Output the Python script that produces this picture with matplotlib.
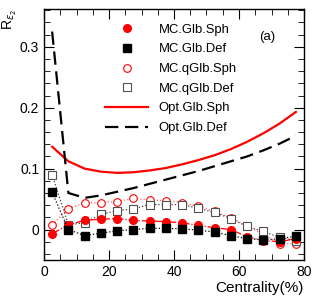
import matplotlib
matplotlib.use("Agg")
import matplotlib.pyplot as plt
from matplotlib.lines import Line2D
from matplotlib.ticker import MultipleLocator

cent = [2.5, 7.5, 12.5, 17.5, 22.5, 27.5, 32.5, 37.5, 42.5, 47.5, 52.5, 57.5, 62.5, 67.5, 72.5, 77.5]

mc_glb_sph = [-0.007, 0.008, 0.015, 0.017, 0.018, 0.015, 0.014, 0.013, 0.011, 0.007, 0.003, 0.0, -0.012, -0.018, -0.02, -0.015]
mc_glb_def = [0.061, 0.0, -0.010, -0.006, -0.002, 0.0, 0.002, 0.002, 0.001, -0.001, -0.004, -0.010, -0.015, -0.017, -0.015, -0.011]
mc_qglb_sph = [0.008, 0.034, 0.044, 0.044, 0.046, 0.051, 0.049, 0.047, 0.044, 0.038, 0.030, 0.019, 0.006, -0.008, -0.023, -0.023]
mc_qglb_def = [0.090, 0.008, 0.011, 0.025, 0.031, 0.034, 0.041, 0.041, 0.041, 0.035, 0.028, 0.018, 0.005, -0.003, -0.013, -0.018]
opt_glb_sph = [0.136, 0.112, 0.100, 0.095, 0.093, 0.094, 0.097, 0.101, 0.107, 0.114, 0.122, 0.132, 0.144, 0.158, 0.174, 0.193]
opt_glb_def = [0.325, 0.060, 0.052, 0.056, 0.062, 0.068, 0.075, 0.082, 0.089, 0.096, 0.104, 0.112, 0.120, 0.130, 0.141, 0.154]

plt.rcParams['font.family'] = ['Liberation Sans', 'DejaVu Sans']
plt.rcParams['mathtext.fontset'] = 'dejavusans'

fig = plt.figure(figsize=(3.15, 3.03), dpi=100)
ax = fig.add_axes([44/315, 43/303, 260/315, 251/303])

ax.plot(cent, opt_glb_sph, color='red', lw=1.6)
ax.plot(cent, opt_glb_def, color='black', lw=1.6, dashes=(6, 3))

ax.plot(cent, mc_qglb_sph, ls=':', color='#ff6060', lw=0.9, marker='o', ms=5.5,
        mfc='white', mec='red', mew=0.8)
ax.plot(cent, mc_qglb_def, ls=':', color='#404040', lw=0.9, marker='s', ms=5.5,
        mfc='white', mec='#505050', mew=0.8)
ax.plot(cent, mc_glb_sph, ls='-.', color='red', lw=0.9, marker='o', ms=5.5,
        mfc='red', mec='red')
ax.plot(cent, mc_glb_def, ls=':', color='black', lw=0.9, marker='s', ms=5.5,
        mfc='black', mec='black')

ax.set_xlim(0, 80)
ax.set_ylim(-0.05, 0.362)
ax.xaxis.set_major_locator(MultipleLocator(20))
ax.xaxis.set_minor_locator(MultipleLocator(5))
ax.yaxis.set_major_locator(MultipleLocator(0.1))
ax.yaxis.set_minor_locator(MultipleLocator(0.02))
ax.set_yticks([0, 0.1, 0.2, 0.3])
ax.set_yticklabels(['0', '0.1', '0.2', '0.3'])
ax.tick_params(which='both', direction='in', top=True, right=True, labelsize=10)
ax.tick_params(which='major', length=7)
ax.tick_params(which='minor', length=4)
for s in ax.spines.values():
    s.set_linewidth(1.0)

handles = [
    Line2D([], [], ls='none', marker='o', ms=5.5, mfc='red', mec='red'),
    Line2D([], [], ls='none', marker='s', ms=5.5, mfc='black', mec='black'),
    Line2D([], [], ls='none', marker='o', ms=5.5, mfc='white', mec='red', mew=0.8),
    Line2D([], [], ls='none', marker='s', ms=5.5, mfc='white', mec='#505050', mew=0.8),
    Line2D([], [], color='red', lw=1.6),
    Line2D([], [], color='black', lw=1.6, dashes=(6, 3)),
]
labels = ['MC.Glb.Sph', 'MC.Glb.Def', 'MC.qGlb.Sph', 'MC.qGlb.Def', 'Opt.Glb.Sph', 'Opt.Glb.Def']
ax.legend(handles, labels, loc='upper left', bbox_to_anchor=(0.215, 0.963), frameon=False,
          fontsize=9.4, handlelength=3.3, handletextpad=0.8, labelspacing=0.58,
          borderaxespad=0)

ax.text(0.86, 0.89, '(a)', transform=ax.transAxes, fontsize=9.5, ha='center', va='center')

fig.text(10/315, 1 - 20/303, r'R$_{\epsilon_2}$', rotation=90, ha='center', va='center', fontsize=10)
fig.text(304/315, 1 - 288/303, 'Centrality(%)', ha='right', va='center', fontsize=11)

fig.savefig('out.png', dpi=100)
